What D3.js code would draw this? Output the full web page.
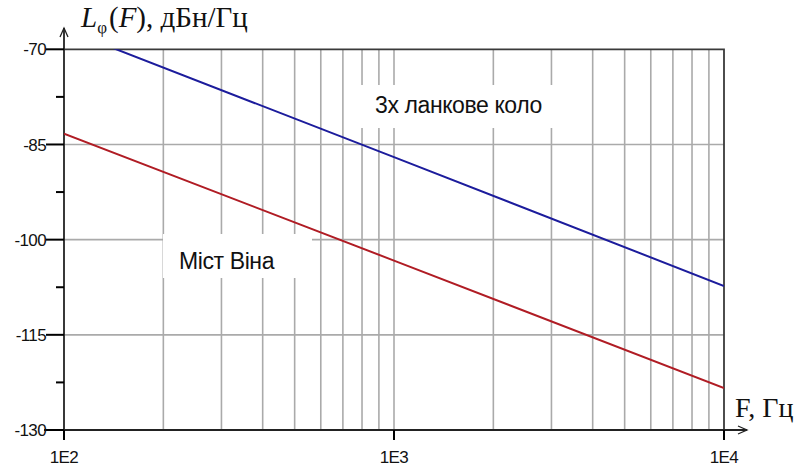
<!DOCTYPE html>
<html>
<head>
<meta charset="utf-8">
<script src="https://cdn.jsdelivr.net/npm/d3@7"></script>
<style>
  html, body { margin: 0; padding: 0; background: #fff; }
  svg { display: block; }
</style>
</head>
<body>
<svg id="chart" width="804" height="468"></svg>
<script>
// Phase noise spectral density of two oscillator circuits, dBc/Hz vs. offset frequency
const freqs       = [100, 1000, 10000];
const threeStage  = [-66.8, -87.0, -107.3];   // 3-section RC chain
const wienBridge  = [-83.3, -103.3, -123.4];  // Wien bridge

const yMajorTicks = [-70, -85, -100, -115, -130];
const yMinorTicks = [-77.5, -92.5, -107.5, -122.5];
const xDecades    = [100, 1000, 10000];
const xTickLabels = ["1E2", "1E3", "1E4"];
const seriesNames = ["3х ланкове коло", "Міст Віна"];

const svg = d3.select("#chart");
const x = d3.scaleLog().domain([100, 10000]).range([64, 724]);
const y = d3.scaleLinear().domain([-130, -70]).range([430, 49.3]);

// vertical grid: every 1..9 step inside each decade
const vGrid = [];
[100, 1000].forEach(d => { for (let k = 2; k <= 10; k++) vGrid.push(d * k); });
const vGridIn = vGrid.filter(v => v < 10000);

const grid = svg.append("g").attr("stroke", "#aaaaaa").attr("stroke-width", 1.6);
grid.selectAll("line.v").data(vGridIn).join("line")
  .attr("x1", d => x(d)).attr("x2", d => x(d))
  .attr("y1", y(-70)).attr("y2", y(-130));
grid.selectAll("line.h").data(yMajorTicks.filter(v => v > -130 && v < -70)).join("line")
  .attr("x1", x(100)).attr("x2", x(10000))
  .attr("y1", d => y(d)).attr("y2", d => y(d));

// white boxes behind the series captions
svg.append("rect").attr("x", 350).attr("y", 85).attr("width", 218).attr("height", 43).attr("fill", "#fff");
svg.append("rect").attr("x", 163).attr("y", 234).attr("width", 149).attr("height", 44).attr("fill", "#fff");

// frame (top and right)
svg.append("path")
  .attr("d", `M${x(100)},${y(-70)}H${x(10000)}V440`)
  .attr("fill", "none").attr("stroke", "#3a3a3a").attr("stroke-width", 1.8);

// axes with arrows
const ax = svg.append("g").attr("stroke", "#222").attr("stroke-width", 1.8).attr("fill", "none");
ax.append("line").attr("x1", x(100)).attr("x2", x(100)).attr("y1", 28).attr("y2", 440);
ax.append("path").attr("d", `M${x(100) - 4},37 L${x(100)},28 L${x(100) + 4},37`).attr("stroke-width", 1.3);
ax.append("line").attr("x1", 44).attr("x2", 747).attr("y1", y(-130)).attr("y2", y(-130));
ax.append("path").attr("d", `M738,${y(-130) - 4} L747,${y(-130)} L738,${y(-130) + 4}`).attr("stroke-width", 1.3);

// y ticks
ax.selectAll("line.ymaj").data(yMajorTicks).join("line")
  .attr("x1", 46).attr("x2", x(100)).attr("y1", d => y(d)).attr("y2", d => y(d))
  .attr("stroke", "#000").attr("stroke-width", 2);
ax.selectAll("line.ymin").data(yMinorTicks).join("line")
  .attr("x1", 56).attr("x2", x(100)).attr("y1", d => y(d)).attr("y2", d => y(d))
  .attr("stroke", "#000").attr("stroke-width", 2);
// x ticks
ax.selectAll("line.xmaj").data(xDecades).join("line")
  .attr("x1", d => x(d)).attr("x2", d => x(d)).attr("y1", y(-130)).attr("y2", 440)
  .attr("stroke", "#000").attr("stroke-width", 2);

const tickFont = "'Liberation Sans', Arial, sans-serif";
svg.selectAll("text.ylab").data(yMajorTicks).join("text")
  .attr("x", 46).attr("y", d => y(d)).attr("dy", "0.36em")
  .attr("text-anchor", "end")
  .attr("font-family", tickFont).attr("font-size", 17).attr("letter-spacing", -0.6)
  .attr("fill", "#111")
  .text(d => String(d));
svg.selectAll("text.xlab").data(xDecades).join("text")
  .attr("x", d => x(d)).attr("y", 463)
  .attr("text-anchor", "middle")
  .attr("font-family", tickFont).attr("font-size", 17).attr("letter-spacing", -0.6)
  .attr("fill", "#111")
  .text((d, i) => xTickLabels[i]);

// data lines, clipped to the plot area
svg.append("clipPath").attr("id", "plotClip").append("rect")
  .attr("x", x(100)).attr("y", y(-70)).attr("width", x(10000) - x(100)).attr("height", y(-130) - y(-70));
const line = d3.line().x(d => x(d[0])).y(d => y(d[1]));
const plot = svg.append("g").attr("clip-path", "url(#plotClip)");
plot.append("path").datum(d3.zip(freqs, threeStage)).attr("d", line)
  .attr("fill", "none").attr("stroke", "#1c1c9c").attr("stroke-width", 2);
plot.append("path").datum(d3.zip(freqs, wienBridge)).attr("d", line)
  .attr("fill", "none").attr("stroke", "#b01c24").attr("stroke-width", 2);

// series captions
svg.append("text").attr("x", 375).attr("y", 113)
  .attr("font-family", tickFont).attr("font-size", 23).attr("letter-spacing", -0.4)
  .attr("fill", "#111").text(seriesNames[0]);
svg.append("text").attr("x", 179).attr("y", 269)
  .attr("font-family", tickFont).attr("font-size", 23).attr("letter-spacing", -0.4)
  .attr("fill", "#111").text(seriesNames[1]);

// axis titles (serif)
const serif = "'Liberation Serif', 'Times New Roman', serif";
const yTitle = svg.append("text").attr("x", 81).attr("y", 27)
  .attr("font-family", serif).attr("font-size", 29).attr("fill", "#111");
yTitle.append("tspan").attr("font-style", "italic").text("L");
yTitle.append("tspan").attr("font-size", 17).attr("dy", 6).text("φ");
yTitle.append("tspan").attr("dy", -6).attr("dx", 2).text("(");
yTitle.append("tspan").attr("font-style", "italic").text("F");
yTitle.append("tspan").text("), дБн/Гц");

svg.append("text").attr("x", 735).attr("y", 417)
  .attr("font-family", serif).attr("font-size", 28).attr("fill", "#111")
  .text("F, Гц");
</script>
</body>
</html>
